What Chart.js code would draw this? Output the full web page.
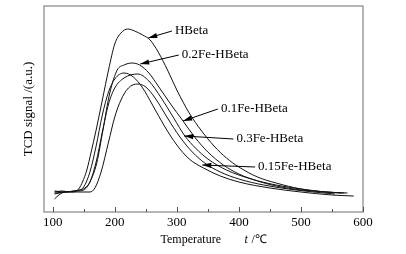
<!DOCTYPE html>
<html>
<head>
<meta charset="utf-8">
<script src="https://cdn.jsdelivr.net/npm/chart.js@4/dist/chart.umd.min.js"></script>
<style>
  html, body { margin: 0; padding: 0; background: #fff; }
  #wrap { width: 406px; height: 254px; position: relative; }
</style>
</head>
<body>
<div id="wrap"><canvas id="tpdChart"></canvas></div>
<script>
// TPD curves, temperature (°C) and signal (a.u.)
const hbetaT = [103, 115, 130, 138, 143, 148, 155, 162, 170, 180, 190, 200, 210, 221, 232, 245, 257, 270, 285, 300, 320, 340, 360, 380, 400, 430, 460, 500, 540, 575];
const hbetaS = [20, 21, 20, 21, 24, 30, 42, 60, 82, 112, 142, 168, 179, 183, 181, 177, 172, 160, 142, 122, 99, 81, 66, 54, 45, 35, 29, 23, 20, 19];

const fe02T = [103, 120, 135, 145, 152, 160, 171, 181, 192, 204, 215, 228, 240, 255, 270, 290, 310, 330, 350, 375, 400, 430, 460, 500, 540, 570];
const fe02S = [21, 20, 21, 22, 24, 30, 49, 82, 119, 142, 147, 149, 147, 139, 126, 108, 91, 74, 60, 47, 38, 31, 26, 22, 20, 19];

const fe01T = [103, 120, 140, 150, 160, 170, 180, 190, 200, 215, 237, 255, 275, 295, 313, 330, 350, 380, 420, 460, 500, 540, 565];
const fe01S = [19, 20, 21, 22, 30, 50, 80, 108, 124, 134, 138, 131, 114, 94, 76, 64, 53, 42, 33, 27, 23, 20, 19];

const fe03T = [103, 120, 135, 143, 150, 160, 170, 180, 190, 200, 215, 230, 245, 260, 280, 300, 320, 343, 370, 400, 450, 500, 550, 585];
const fe03S = [18, 20, 21, 22, 25, 40, 66, 97, 120, 133, 139, 135, 124, 108, 86, 67, 53, 44, 36, 30, 24, 20, 17, 16];

const fe015T = [103, 110, 120, 140, 160, 168, 178, 190, 200, 210, 222, 237, 250, 265, 285, 305, 325, 345, 370, 400, 440, 480, 520, 555];
const fe015S = [13, 17, 20, 20, 20, 24, 40, 70, 95, 112, 124, 128, 125, 114, 94, 75, 60, 49, 40, 33, 27, 23, 20, 18];

const xTickValues = [100, 200, 300, 400, 500, 600];
const xMinorValues = [150, 250, 350, 450, 550];

// labels with arrows: text anchor and arrow tip, in data units
const labelNames = ['HBeta', '0.2Fe-HBeta', '0.1Fe-HBeta', '0.3Fe-HBeta', '0.15Fe-HBeta'];
const labelT = [297, 308, 371, 396, 431];
const labelS = [181, 157, 103, 73, 45];
const tipT = [254, 241, 310, 312, 341];
const tipS = [174, 148, 91, 76, 47];

function toPoints(ts, ss) {
    return ts.map((t, i) => ({ x: t, y: ss[i] }));
}

const serif = '"Liberation Serif", "Times New Roman", serif';

const curves = [
    { label: 'HBeta', data: toPoints(hbetaT, hbetaS) },
    { label: '0.2Fe-HBeta', data: toPoints(fe02T, fe02S) },
    { label: '0.1Fe-HBeta', data: toPoints(fe01T, fe01S) },
    { label: '0.3Fe-HBeta', data: toPoints(fe03T, fe03S) },
    { label: '0.15Fe-HBeta', data: toPoints(fe015T, fe015S) }
];

const framePlugin = {
    id: 'frame',
    afterDraw(chart) {
        const { ctx, chartArea: a, scales } = chart;
        const x = scales.x, y = scales.y;
        ctx.save();
        // frame
        ctx.strokeStyle = '#858585';
        ctx.lineWidth = 1.2;
        ctx.strokeRect(a.left, a.top, a.right - a.left, a.bottom - a.top);
        // inward ticks
        ctx.strokeStyle = '#555';
        ctx.lineWidth = 1;
        ctx.beginPath();
        xTickValues.forEach(v => {
            const px = Math.round(x.getPixelForValue(v)) + 0.5;
            ctx.moveTo(px, a.bottom);
            ctx.lineTo(px, a.bottom - 5);
        });
        xMinorValues.forEach(v => {
            const px = Math.round(x.getPixelForValue(v)) + 0.5;
            ctx.moveTo(px, a.bottom);
            ctx.lineTo(px, a.bottom - 3);
        });
        ctx.stroke();

        // labels and arrows
        ctx.font = '13px ' + serif;
        ctx.fillStyle = '#000';
        ctx.strokeStyle = '#000';
        ctx.textBaseline = 'middle';
        ctx.textAlign = 'left';
        labelNames.forEach((name, i) => {
            const tx = x.getPixelForValue(labelT[i]);
            const ty = y.getPixelForValue(labelS[i]);
            ctx.fillText(name, tx, ty);
            const sx = tx - 3, sy = ty;
            const ex = x.getPixelForValue(tipT[i]);
            const ey = y.getPixelForValue(tipS[i]);
            ctx.lineWidth = 1;
            ctx.beginPath();
            ctx.moveTo(sx, sy);
            ctx.lineTo(ex, ey);
            ctx.stroke();
            const ang = Math.atan2(ey - sy, ex - sx);
            const len = 9, hw = 2.6;
            ctx.beginPath();
            ctx.moveTo(ex, ey);
            ctx.lineTo(ex - len * Math.cos(ang) + hw * Math.sin(ang), ey - len * Math.sin(ang) - hw * Math.cos(ang));
            ctx.lineTo(ex - len * Math.cos(ang) - hw * Math.sin(ang), ey - len * Math.sin(ang) + hw * Math.cos(ang));
            ctx.closePath();
            ctx.fill();
        });

        // x axis title with italic t
        const cx = (a.left + a.right) / 2;
        const ty = 240;
        ctx.font = '12px ' + serif;
        ctx.fillText('Temperature', cx - 43, ty);
        ctx.font = 'italic 12px ' + serif;
        ctx.fillText('t', cx + 41, ty);
        ctx.font = '12px ' + serif;
        ctx.fillText(' /\u2103', cx + 45, ty);
        ctx.restore();
    }
};

const ctx = document.getElementById('tpdChart').getContext('2d');
new Chart(ctx, {
    type: 'line',
    data: {
        datasets: curves.map(c => ({
            label: c.label,
            data: c.data,
            borderColor: '#111',
            borderWidth: 1,
            pointRadius: 0,
            fill: false,
            cubicInterpolationMode: 'monotone'
        }))
    },
    options: {
        responsive: true,
        maintainAspectRatio: false,
        animation: false,
        layout: { padding: { top: 6, right: 43, left: 0, bottom: 0 } },
        scales: {
            x: {
                type: 'linear',
                min: 86,
                max: 600,
                grid: { display: false, drawTicks: false },
                border: { display: false },
                afterBuildTicks: axis => {
                    axis.ticks = xTickValues.map(v => ({ value: v }));
                },
                afterFit: axis => { axis.height = 42; },
                ticks: {
                    color: '#000',
                    padding: 3,
                    maxRotation: 0,
                    font: { family: serif, size: 13 }
                }
            },
            y: {
                min: 0,
                max: 206,
                grid: { display: false },
                border: { display: false },
                ticks: { display: false },
                afterFit: axis => { axis.width = 44; },
                title: {
                    display: true,
                    text: 'TCD signal /(a.u.)',
                    color: '#000',
                    padding: { top: 21, bottom: 0 },
                    font: { family: serif, size: 13 }
                }
            }
        },
        plugins: {
            legend: { display: false },
            tooltip: { enabled: false }
        }
    },
    plugins: [framePlugin]
});
</script>
</body>
</html>
